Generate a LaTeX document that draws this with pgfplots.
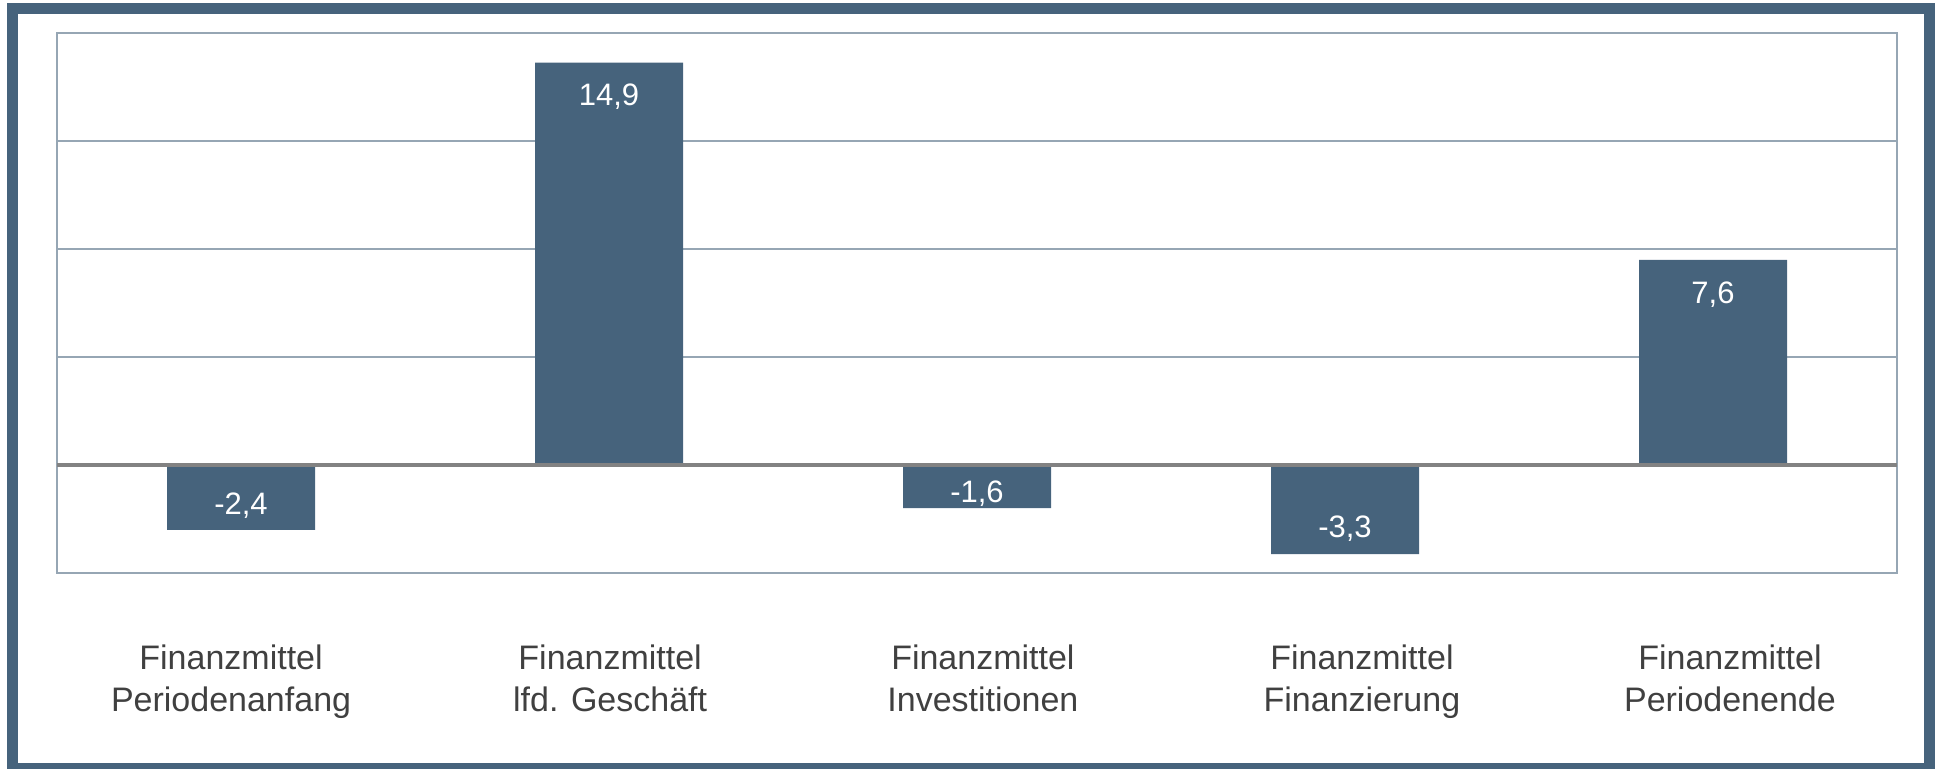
\documentclass[border=0pt]{standalone}
\usepackage{fontspec}
\setmainfont{Liberation Sans}
\usepackage{pgfplots}
\pgfplotsset{compat=1.18}
\definecolor{barc}{RGB}{70,99,124}
\definecolor{gridc}{RGB}{150,166,180}
\definecolor{zeroc}{RGB}{130,130,130}
\definecolor{txt}{RGB}{64,64,64}
\begin{document}
\begin{tikzpicture}
\useasboundingbox (0,0) rectangle (969.5bp,384.5bp);
\draw[barc, line width=5.5bp] (6.25bp,0.25bp) rectangle (964.75bp,380.25bp);
\begin{axis}[
  at={(28.5bp,98bp)}, anchor=south west,
  scale only axis, width=920bp, height=270bp,
  xmin=-0.5, xmax=4.5, ymin=-4, ymax=16,
  ytick={-4,4,8,12,16}, yticklabels={},
  ymajorgrids, grid style={gridc, line width=0.75bp},
  major tick length=0pt,
  axis line style={gridc, line width=0.9bp},
  xtick={-0.027,1.003,2.016,3.046,4.046},
  xticklabels={{Finanzmittel\\Periodenanfang},{Finanzmittel\\lfd. Geschäft},{Finanzmittel\\Investitionen},{Finanzmittel\\Finanzierung},{Finanzmittel\\Periodenende}},
  xticklabel style={align=center, font=\fontsize{17bp}{21bp}\selectfont, text=txt, yshift=-32.5bp},
]
\addplot[ybar, bar width=74bp, fill=barc, draw=none]
  coordinates {(0,-2.4) (1,14.9) (2,-1.6) (3,-3.3) (4,7.6)};
\draw[zeroc, line width=1.6bp] (axis cs:-0.5,0) -- (axis cs:4.5,0);
\addplot[draw=none, mark=none, nodes near coords, point meta=explicit symbolic,
  every node near coord/.append style={anchor=center, yshift=-2bp, text=white, font=\fontsize{15.5bp}{18bp}\selectfont}]
  table[meta=lab] {
x y lab
0 -1.36 -2,4
1 13.8 14,9
2 -0.93 -1,6
3 -2.22 -3,3
4 6.45 7,6
};
\end{axis}
\end{tikzpicture}
\end{document}
